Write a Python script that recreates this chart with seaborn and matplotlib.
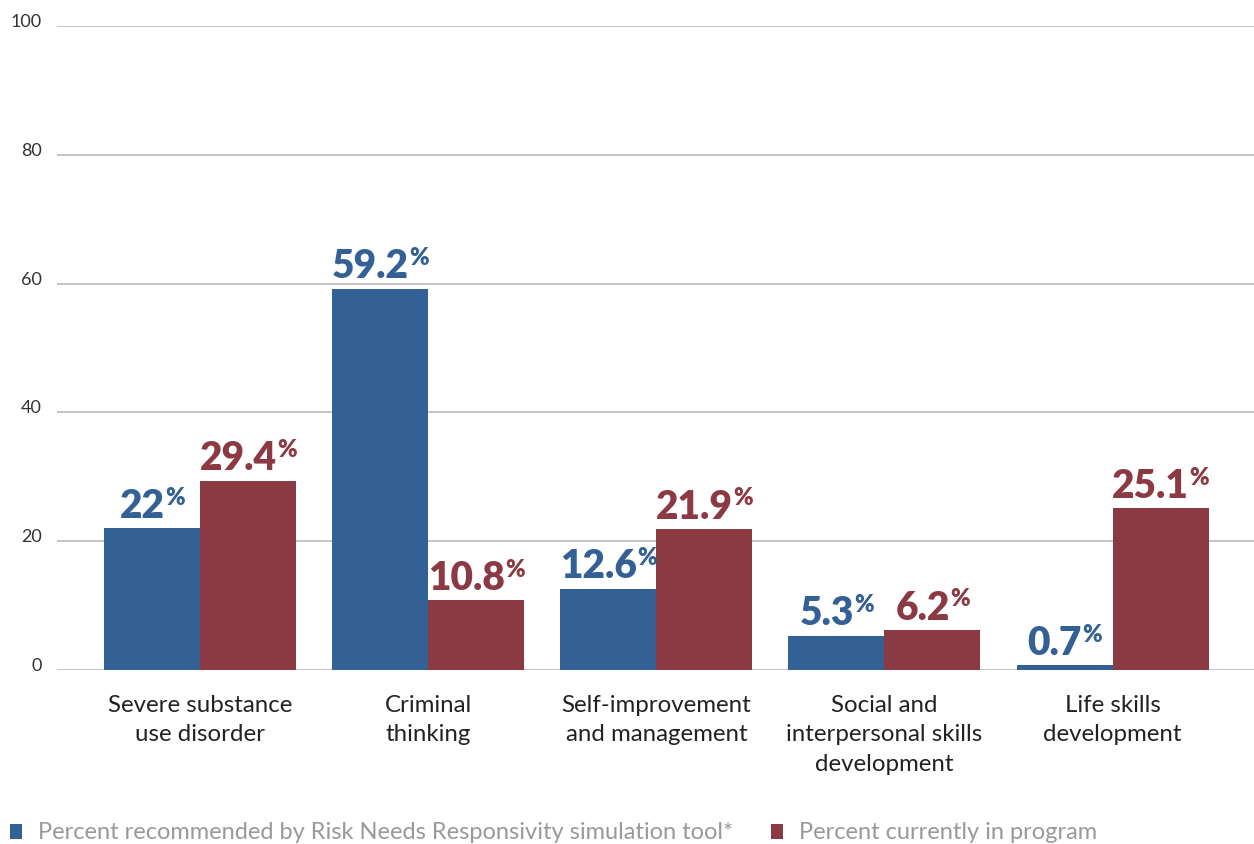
import matplotlib
matplotlib.use("Agg")
import matplotlib.pyplot as plt
import matplotlib.transforms as mtransforms
from matplotlib.patches import Patch
import seaborn as sns
import pandas as pd

categories = ["Severe substance\nuse disorder", "Criminal\nthinking",
              "Self-improvement\nand management",
              "Social and\ninterpersonal skills\ndevelopment",
              "Life skills\ndevelopment"]
recommended = [22, 59.2, 12.6, 5.3, 0.7]
current = [29.4, 10.8, 21.9, 6.2, 25.1]
rec_labels = ["22", "59.2", "12.6", "5.3", "0.7"]
cur_labels = ["29.4", "10.8", "21.9", "6.2", "25.1"]
series = ["Percent recommended by Risk Needs Responsivity simulation tool*",
          "Percent currently in program"]
yticks = [0, 20, 40, 60, 80, 100]

BLUE = "#336195"
RED = "#8B3A43"

df = pd.DataFrame({
    "category": categories * 2,
    "value": recommended + current,
    "series": [series[0]] * len(categories) + [series[1]] * len(categories),
})

sns.set_theme(style="white")
plt.rcParams["font.family"] = ["Lato", "DejaVu Sans"]

fig = plt.figure(figsize=(12.54, 8.44), dpi=100)
ax = fig.add_axes([0.0455, 0.2062, 0.9545, 0.7630])

sns.barplot(data=df, x="category", y="value", hue="series",
            palette=[BLUE, RED], width=0.842, gap=0, saturation=1,
            linewidth=0, edgecolor="none",
            order=categories, hue_order=series, legend=False, ax=ax)

ax.set_xlim(-0.627, 4.62)
ax.set_ylim(0, 100)
ax.set_yticks(yticks)
ax.set_yticklabels([str(t) for t in yticks])
ax.set_xlabel("")
ax.set_ylabel("")
for s in ax.spines.values():
    s.set_visible(False)
ax.yaxis.grid(True, color="#b5b5b5", linewidth=1.1)
ax.xaxis.grid(False)
ax.set_axisbelow(True)
ax.tick_params(axis="y", length=0, pad=11, labelsize=13, labelcolor="#333333")
ax.tick_params(axis="x", length=0, pad=18, labelsize=17.3, labelcolor="#222222")
for lbl in ax.get_xticklabels():
    lbl.set_linespacing(1.5)
offset = mtransforms.ScaledTranslation(0, 4 / 72, fig.dpi_scale_trans)
for lbl in ax.get_yticklabels():
    lbl.set_transform(lbl.get_transform() + offset)

# value labels
fig.canvas.draw()
renderer = fig.canvas.get_renderer()
pairs = []
for i, cat in enumerate(categories):
    for j, (vals, labs, col) in enumerate([(recommended, rec_labels, BLUE),
                                           (current, cur_labels, RED)]):
        bar = ax.patches[j * len(categories) + i]
        xc = bar.get_x() + bar.get_width() / 2
        yv = bar.get_height()
        t1 = ax.annotate(labs[i], xy=(xc, yv), xytext=(0, 7.5),
                         textcoords="offset points", ha="center",
                         va="baseline", fontsize=28, fontweight="heavy",
                         color=col)
        t2 = ax.annotate("%", xy=(xc, yv), xytext=(0, 17),
                         textcoords="offset points", ha="left",
                         va="baseline", fontsize=17, fontweight="heavy",
                         color=col)
        pairs.append((t1, t2))
fig.canvas.draw()
for t1, t2 in pairs:
    w1 = t1.get_window_extent(renderer).width * 72 / fig.dpi
    w2 = t2.get_window_extent(renderer).width * 72 / fig.dpi
    t1.xyann = (-w2 / 2, 7.5)
    t2.xyann = (w1 / 2 - w2 / 2, 17)

handles = [Patch(facecolor=BLUE, edgecolor="none"),
           Patch(facecolor=RED, edgecolor="none")]
leg = fig.legend(handles, series, loc="lower left", bbox_to_anchor=(-0.0035, -0.016),
                 ncol=2, frameon=False, handlelength=0.5, handleheight=0.6,
                 handletextpad=0.7, columnspacing=1.6, borderaxespad=0.2,
                 prop={"family": ["Lato", "DejaVu Sans"], "weight": "normal", "size": 17})
for t in leg.get_texts():
    t.set_color("#999999")

fig.savefig("out.png", dpi=100)
